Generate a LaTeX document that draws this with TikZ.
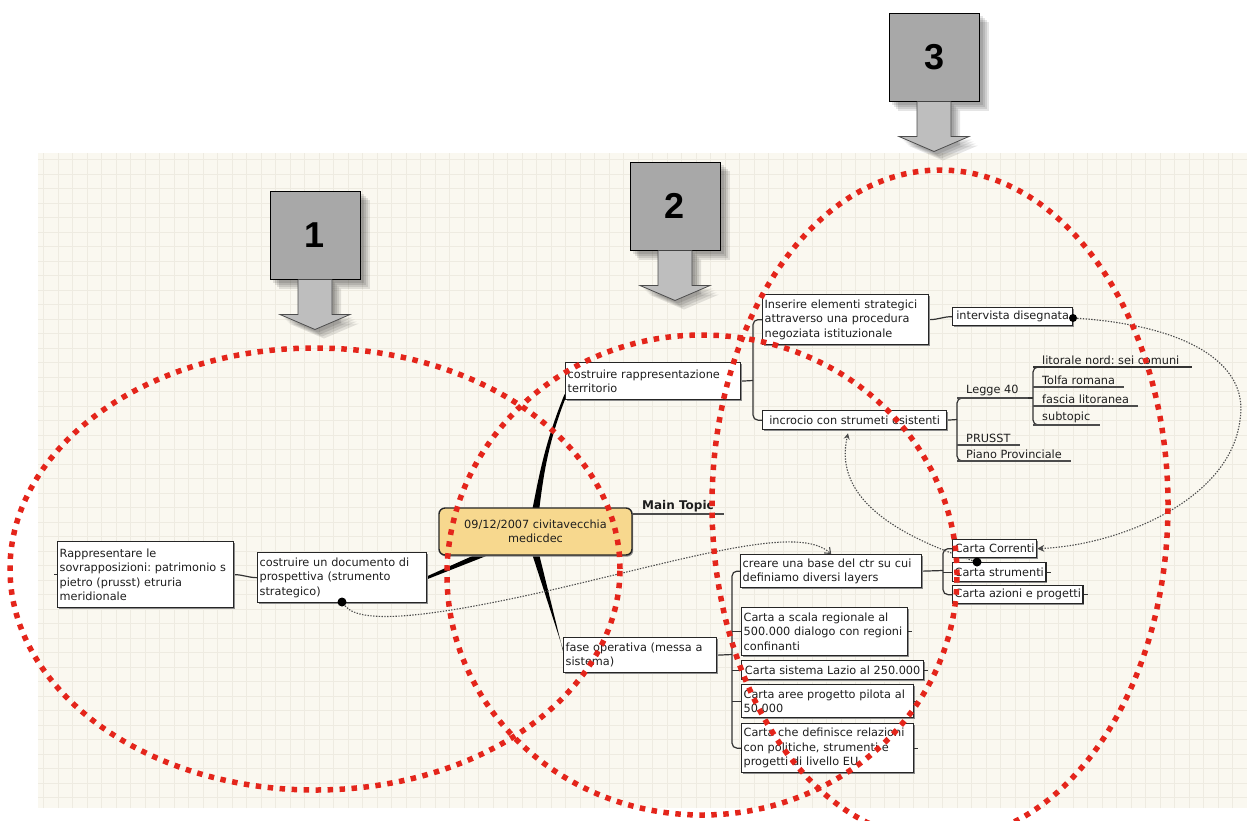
\documentclass[tikz,border=0pt]{standalone}
\usepackage{fontspec}
\setmainfont{DejaVu Sans}
\newfontfamily\numfont{Liberation Sans}
\usetikzlibrary{calc,shadows,arrows.meta}
\definecolor{cream}{HTML}{FAF8F0}
\definecolor{gridline}{HTML}{EEEBE1}
\definecolor{dotred}{HTML}{E4251B}
\definecolor{keygray}{HTML}{A8A8A8}
\definecolor{shaftgray}{HTML}{BEBEBE}
\definecolor{topicyellow}{HTML}{F7D88E}
\definecolor{ink}{HTML}{1E1E1E}
\pgfdeclarelayer{grid}
\pgfdeclarelayer{links}
\pgfdeclarelayer{top}
\pgfsetlayers{grid,links,main,top}
\frenchspacing

\begin{document}
\begin{tikzpicture}[x=1pt,y=-1pt,
  txt/.style={font=\fontsize{11.3}{14.5}\selectfont, text=ink},
  box/.style={txt, draw=black!85, line width=1.3pt, fill=white, anchor=north west,
    align=left, inner xsep=2pt, inner ysep=1pt,
    drop shadow={shadow xshift=1.2pt, shadow yshift=-1.6pt, fill=black!45, opacity=1}},
  sub/.style={txt, anchor=south west, inner xsep=9pt, inner ysep=2pt},
  uline/.style={line width=1.7pt, draw=black!70},
  branch/.style={line width=1.2pt, draw=black!80, rounded corners=5pt},
  tick/.style={line width=1pt, draw=black!80},
  dotline/.style={draw=black!70, line width=1.1pt, dash pattern=on 1.4pt off 1.4pt},
  reddots/.style={draw=dotred, line width=5.5pt, dash pattern=on 5.5pt off 6.5pt},
  keybox/.style={fill=keygray, draw=black, line width=1pt, minimum width=90pt,
    minimum height=88pt, font=\numfont\bfseries\fontsize{36}{36}\selectfont},
  pin/.style={circle, fill=black, inner sep=0pt, minimum size=9pt},
]
\useasboundingbox (0,0) rectangle (1247,820);

% paper with grid
\begin{pgfonlayer}{grid}
  \fill[white] (0,0) rectangle (1247,820);
  \fill[cream] (38,153) rectangle (1247,808);
  \draw[gridline, line width=0.5pt, step=14.5pt] (38,153) grid (1247,808);
\end{pgfonlayer}

% numbered keys with arrows
\node[keybox] (k1) at (315,235) {1};
\node[keybox] (k2) at (675,206) {2};
\node[keybox] (k3) at (934,57) {3};
\foreach \k in {k1,k2,k3}{
  \filldraw[fill=shaftgray, draw=black!70, line width=0.8pt, shift={(\k.south)}]
    (-17,0) -- (-17,35) -- (-35,35) -- (0,50) -- (35,35) -- (17,35) -- (17,0);
}
\begin{pgfonlayer}{links}
\foreach \k in {k1,k2,k3}{
  \foreach \s in {3,5,7,9}{
    \fill[black, opacity=0.1] ($(\k.north west)+(\s,\s)$) rectangle ($(\k.south east)+(\s,\s)$);
    \fill[black, opacity=0.1, shift={($(\k.south)+(\s,\s)$)}]
      (-17,0) -- (-17,35) -- (-35,35) -- (0,50) -- (35,35) -- (17,35) -- (17,0) -- cycle;
  }
}
\end{pgfonlayer}

% central topic
\node[txt, draw=black!85, line width=1.4pt, fill=topicyellow, rounded corners=6pt,
  minimum width=193pt, minimum height=47pt, align=center,
  drop shadow={shadow xshift=1.2pt, shadow yshift=-1.6pt, fill=black!45, opacity=1}]
  (ctr) at (535.5,531.5) {09/12/2007 civitavecchia\\medicdec};
\node[anchor=south west, inner xsep=10pt, inner ysep=2pt, text=ink,
  font=\bfseries\fontsize{12}{14}\selectfont] (mt) at (632,514) {Main Topic};
\draw[uline] (mt.south west) -- (mt.south east);

% left branch
\node[box, text width=172pt, minimum height=66pt] (A) at (57,541)
  {Rappresentare le\\sovrapposizioni: patrimonio s\\pietro (prusst) etruria\\meridionale};
\node[box, text width=165pt, minimum height=50pt] (B) at (257,552)
  {costruire un documento di\\prospettiva (strumento\\strategico)};

% upper branch
\node[box, text width=171pt, minimum height=37pt] (C) at (565,362)
  {costruire rappresentazione\\territorio};
\node[box, text width=162pt, minimum height=50pt] (E) at (762,294)
  {Inserire elementi strategici\\attraverso una procedura\\negoziata istituzionale};
\node[box, minimum width=184pt, minimum height=19pt] (F) at (762,410)
  {incrocio con strumeti esistenti};
\node[box, minimum width=120pt, minimum height=18pt] (G) at (952,307)
  {intervista disegnata};
\node[sub] (le) at (957,398) {Legge 40};
\node[sub] (pr) at (957,445) {PRUSST};
\node[sub] (pp) at (957,461) {Piano Provinciale};
\node[sub] (li) at (1033,367) {litorale nord: sei comuni};
\node[sub] (to) at (1033,387) {Tolfa romana};
\node[sub] (fa) at (1033,406) {fascia litoranea};
\node[sub] (su) at (1033,425) {subtopic};

% lower branch
\node[box, text width=149pt, minimum height=35pt] (D) at (563,637)
  {fase operativa (messa a\\sistema)};
\node[box, text width=177pt, minimum height=33pt] (H) at (740,554)
  {creare una base del ctr su cui\\definiamo diversi layers};
\node[box, text width=162pt, minimum height=48pt] (I) at (741,607)
  {Carta a scala regionale al\\500.000 dialogo con regioni\\confinanti};
\node[box, minimum width=182pt, minimum height=19pt] (J) at (741,660)
  {Carta sistema Lazio al 250.000};
\node[box, text width=168pt, minimum height=33pt] (K) at (741,684)
  {Carta aree progetto pilota al\\50.000};
\node[box, text width=168pt, minimum height=49pt] (L) at (741,723)
  {Carta che definisce relazioni\\con politiche, strumenti e\\progetti di livello EU};
\node[box, minimum width=84pt, minimum height=18pt] (CC) at (952,539) {Carta Correnti};
\node[box, minimum width=93pt, minimum height=19pt] (CS) at (952,562) {Carta strumenti};
\node[box, minimum width=127pt, minimum height=18pt] (CA) at (952,585) {Carta azioni e progetti};

% link markers
\begin{pgfonlayer}{top}
  \node[pin] (pB) at (342,602) {};
  \node[pin, minimum size=8pt] (pG) at (1073,318) {};
  \node[pin] (pC) at (977,562) {};
\end{pgfonlayer}

\begin{pgfonlayer}{links}
  % tapered main branches
  \fill[black] ($(ctr.north)+(-3.5,4)$) .. controls (540,470) and (546,440) .. ($(C.south west)+(-0.5,-6)$)
    -- ($(C.south west)+(2,-6)$) .. controls (549,440) and (544,470) .. ($(ctr.north)+(3.5,4)$) -- cycle;
  \fill[black] ($(ctr.south)+(-3.5,-2)$) -- ($(D.west)+(1,-3)$) -- ($(D.west)+(1,0)$)
    -- ($(ctr.south)+(3.5,-2)$) -- cycle;
  \fill[black] ($(B.east)+(0,-1.5)$) -- ($(ctr.center)+(-15,3)$)
    -- ($(ctr.center)+(-15,11)$) -- ($(B.east)+(0,1.5)$) -- cycle;

  % child connectors
  \draw[branch] (A.east) to[out=0,in=180] (B.west);
  \coordinate (brC) at (753,380.5);
  \draw[branch] (C.east) -- (brC);
  \draw[branch] (E.west) -| (brC) |- (F.west);
  \draw[branch] (E.east) to[out=0,in=180] (G.west);

  \coordinate (brF) at (957,419.5);
  \draw[branch] (F.east) -- (brF);
  \draw[branch] ($(le.south west)+(6,0)$) -| (brF) |- ($(pp.south west)+(6,0)$);
  \coordinate (brL) at (1033,398);
  \draw[branch] (le.south east) -- (brL);
  \draw[branch] ($(li.south west)+(6,0)$) -| (brL) |- ($(su.south west)+(6,0)$);

  \coordinate (brD) at (732,654.5);
  \draw[branch] (D.east) -- (brD);
  \draw[branch] (H.west) -| (brD) |- (L.west);
  \draw[branch] (brD |- I.west) -- (I.west);
  \draw[branch] (brD |- J.west) -- (J.west);
  \draw[branch] (brD |- K.west) -- (K.west);

  \coordinate (brH) at (943,570.5);
  \draw[branch] (H.east) -- (brH);
  \draw[branch] (CC.west) -| (brH) |- (CA.west);
  \draw[branch] (brH |- CS.west) -- (CS.west);

  % dotted relationship links
  \draw[dotline, -{Straight Barb[length=5pt,width=8pt]}] (pB)
    .. controls (360,625) and (430,618) .. (560,588)
    .. controls (700,555) and (800,525) .. (H.north);
  \draw[dotline, -{Stealth[length=7pt,width=7pt]}] (pG)
    .. controls (1180,325) and (1250,360) .. (1240,420)
    .. controls (1230,500) and (1120,545) .. (CC.east);
  \coordinate (fIn) at ($(F.south west)+(86,3)$);
  \draw[dotline, -{Stealth[length=6pt,width=6pt]}] (pC)
    .. controls (880,530) and (835,490) .. (fIn);
\end{pgfonlayer}

% underlines of the sub-topics
\foreach \n in {le,pr,pp,li,to,fa,su}{
  \draw[uline] (\n.south west) -- (\n.south east);
}
\draw[uline, black!80, line width=2.2pt] (li.south west) -- ++(159,0);

% collapse ticks
\foreach \n in {I,J,K,L,CS,CA}{
  \draw[tick] (\n.east) -- ++(4,0);
}
\draw[tick] (A.west) -- ++(-3,0);

% red dotted groupings
\begin{pgfonlayer}{top}
  \draw[reddots] (315,569) ellipse [x radius=305pt, y radius=221pt];
  \draw[reddots] (702,575) ellipse [x radius=255pt, y radius=240pt];
  \draw[reddots] (940,505) ellipse [x radius=228pt, y radius=335pt];
\end{pgfonlayer}
\end{tikzpicture}
\end{document}
